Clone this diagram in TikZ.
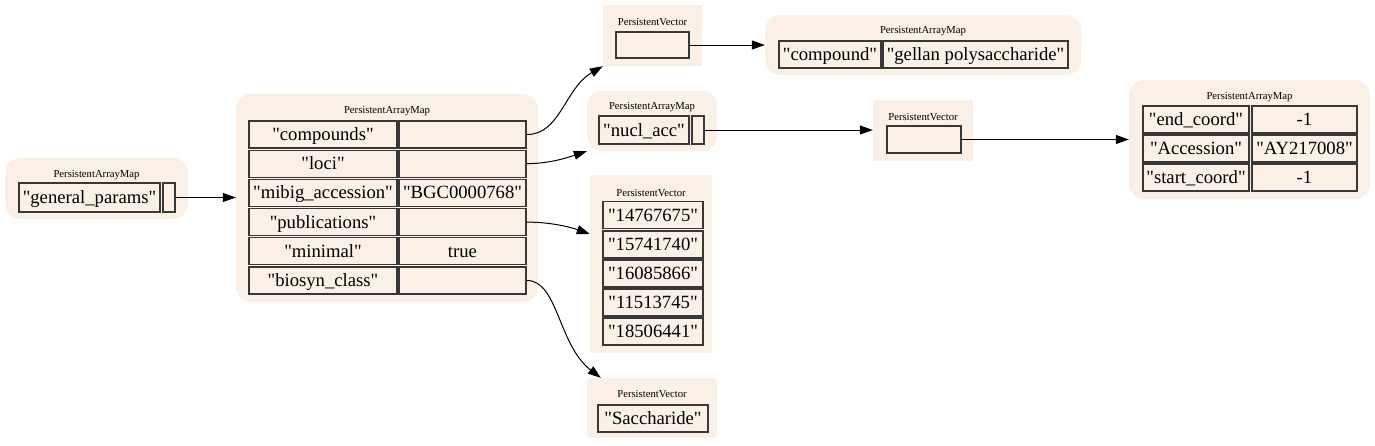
\documentclass[tikz,border=0pt]{standalone}
\usepackage{fontspec}
\setmainfont{Liberation Serif}[Ligatures=TeXOff]
\usetikzlibrary{arrows.meta}
\definecolor{linen}{HTML}{FAF0E6}
\definecolor{cellline}{HTML}{383838}
\tikzset{
  mapbg/.style={fill=linen, rounded corners=15pt, inner sep=0pt, draw=none},
  vecbg/.style={fill=linen, inner sep=0pt, draw=none},
  ttl/.style={inner sep=0pt, font=\fontsize{10.67}{12}\selectfont},
  cell/.style={draw=cellline, line width=1.3pt, fill=linen, inner sep=0pt, minimum height=27pt, text height=16pt, text depth=4pt, font=\fontsize{18.67}{20}\selectfont},
  link/.style={draw=black, line width=1pt, -{Triangle[length=13pt,width=9pt]}},
}
\begin{document}
\begin{tikzpicture}[x=1pt,y=-1pt]
\useasboundingbox (0,0) rectangle (1375,445);
% N1 general_params
\node[mapbg, minimum width=183pt, minimum height=61pt] (n1) at (96.5,188.5) {};
\node[ttl] (n1t) at (96.5,175) {PersistentArrayMap};
\node[cell, minimum width=141pt, minimum height=29pt] (n1k) at (89.5,197.5) {"general\_params"};
\node[cell, minimum width=12pt, minimum height=29pt] (n1v) at (169,197.5) {};
% N2 main map
\node[mapbg, minimum width=302pt, minimum height=208pt] (n2) at (387,198) {};
\node[ttl] (n2t) at (387,111) {PersistentArrayMap};
\node[cell, minimum width=148pt] (n2k1) at (323,134.5) {"compounds"};
\node[cell, minimum width=127pt] (n2v1) at (462.5,134.5) {};
\node[cell, minimum width=148pt] (n2k2) at (323,163.7) {"loci"};
\node[cell, minimum width=127pt] (n2v2) at (462.5,163.7) {};
\node[cell, minimum width=148pt] (n2k3) at (323,192.9) {"mibig\_accession"};
\node[cell, minimum width=127pt] (n2v3) at (462.5,192.9) {"BGC0000768"};
\node[cell, minimum width=148pt] (n2k4) at (323,222.1) {"publications"};
\node[cell, minimum width=127pt] (n2v4) at (462.5,222.1) {};
\node[cell, minimum width=148pt] (n2k5) at (323,251.3) {"minimal"};
\node[cell, minimum width=127pt] (n2v5) at (462.5,251.3) {true};
\node[cell, minimum width=148pt] (n2k6) at (323,280.5) {"biosyn\_class"};
\node[cell, minimum width=127pt] (n2v6) at (462.5,280.5) {};
% N3 vector (compounds)
\node[vecbg, minimum width=99pt, minimum height=61pt] (n3) at (652.5,35.5) {};
\node[ttl] (n3t) at (652.5,22) {PersistentVector};
\node[cell, minimum width=73pt, minimum height=26pt] (n3c) at (652.5,45) {};
% N4 compound map
\node[mapbg, minimum width=316pt, minimum height=60pt] (n4) at (923,45) {};
\node[ttl] (n4t) at (923,31) {PersistentArrayMap};
\node[cell, minimum width=102pt] (n4k) at (830,54.5) {"compound"};
\node[cell, minimum width=185pt] (n4v) at (975.5,54.5) {"gellan polysaccharide"};
% N5 nucl_acc map
\node[mapbg, minimum width=130pt, minimum height=60pt] (n5) at (652,121) {};
\node[ttl] (n5t) at (652,107) {PersistentArrayMap};
\node[cell, minimum width=90pt, minimum height=28pt] (n5k) at (644,130) {"nucl\_acc"};
\node[cell, minimum width=12pt, minimum height=28pt] (n5v) at (698,130) {};
% N6 vector
\node[vecbg, minimum width=100pt, minimum height=61pt] (n6) at (923,130.5) {};
\node[ttl] (n6t) at (923,117) {PersistentVector};
\node[cell, minimum width=74pt] (n6c) at (924,139.5) {};
% N7 accession map
\node[mapbg, minimum width=241pt, minimum height=119pt] (n7) at (1249.5,139.5) {};
\node[ttl] (n7t) at (1249.5,97) {PersistentArrayMap};
\node[cell, minimum width=106pt] (n7k1) at (1196,119.5) {"end\_coord"};
\node[cell, minimum width=105pt] (n7v1) at (1304.5,119.5) {-1};
\node[cell, minimum width=106pt] (n7k2) at (1196,148.5) {"Accession"};
\node[cell, minimum width=105pt] (n7v2) at (1304.5,148.5) {"AY217008"};
\node[cell, minimum width=106pt] (n7k3) at (1196,177.5) {"start\_coord"};
\node[cell, minimum width=105pt] (n7v3) at (1304.5,177.5) {-1};
% N8 publications vector
\node[vecbg, minimum width=122pt, minimum height=178pt] (n8) at (651,264) {};
\node[ttl] (n8t) at (651,193) {PersistentVector};
\node[cell, minimum width=100pt] (n8c1) at (653,215) {"14767675"};
\node[cell, minimum width=100pt] (n8c2) at (653,244.5) {"15741740"};
\node[cell, minimum width=100pt] (n8c3) at (653,273.5) {"16085866"};
\node[cell, minimum width=100pt] (n8c4) at (653,302.5) {"11513745"};
\node[cell, minimum width=100pt] (n8c5) at (653,331.5) {"18506441"};
% N9 biosyn vector
\node[vecbg, minimum width=130pt, minimum height=60pt] (n9) at (652,408) {};
\node[ttl] (n9t) at (652,394) {PersistentVector};
\node[cell, minimum width=110pt] (n9c) at (653,418.5) {"Saccharide"};
% edges
\draw[link] (n1v.east) -- (n1v.east -| n2.west);
\draw[link] (n2v1.east) .. controls (560,135) and (565,88) .. (n3.south west);
\draw[link] (n2v2.east) .. controls (550,163.5) and (566,158) .. (n5.south west);
\draw[link] (n2v4.east) .. controls (550,222) and (570,227) .. ([yshift=30pt]n8.west);
\draw[link] (n2v6.east) .. controls (558,280) and (558,345) .. ([xshift=14pt]n9.north west);
\draw[link] (n3c.east) -- (n3c.east -| n4.west);
\draw[link] (n5v.east) -- (n5v.east -| n6.west);
\draw[link] (n6c.east) -- (n6c.east -| n7.west);
\end{tikzpicture}
\end{document}
